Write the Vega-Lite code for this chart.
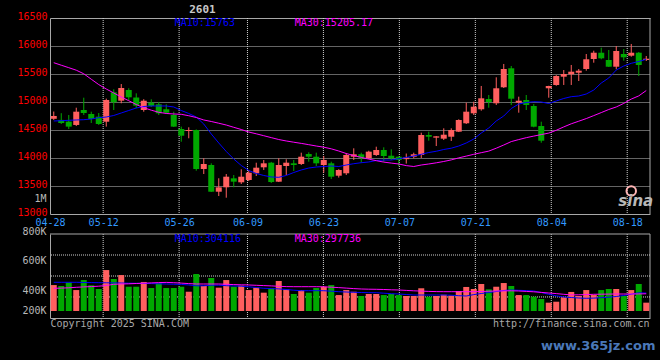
{
"$schema": "https://vega.github.io/schema/vega-lite/v6.json",
"width": 600, "height": 300,
"autosize": {"type": "none"},
"padding": {"left": 50, "top": 18, "right": 10, "bottom": 42},
"background": "#000000",
"config": {
 "view": {"stroke": null},
 "font": "DejaVu Sans Mono",
 "axis": {"labelFont": "DejaVu Sans Mono", "labelFontSize": 10, "titleFont": "DejaVu Sans Mono", "titleFontWeight": "normal", "ticks": false, "domainColor": "#a8a8a8", "domainWidth": 1, "gridColor": "#c8c8c8", "gridDash": [1, 1], "gridWidth": 1, "labelFlush": false, "labelOverlap": false}
},
"data": {"values": [
{"d":"04-28","o":14700,"h":14830,"l":14680,"c":14750,"v":371000,"m10":14661,"m30":15702,"v10":394200,"v30":343700},
{"d":"04-29","o":14680,"h":14800,"l":14607,"c":14625,"v":363000,"m10":14666,"m30":15657,"v10":394200,"v30":345400},
{"d":"04-30","o":14650,"h":14768,"l":14518,"c":14560,"v":394000,"m10":14673,"m30":15613,"v10":394200,"v30":347900},
{"d":"05-06","o":14590,"h":14898,"l":14571,"c":14827,"v":329000,"m10":14679,"m30":15568,"v10":394200,"v30":352100},
{"d":"05-07","o":14857,"h":15077,"l":14768,"c":14804,"v":413000,"m10":14684,"m30":15504,"v10":392500,"v30":355500},
{"d":"05-08","o":14786,"h":14827,"l":14625,"c":14696,"v":369000,"m10":14696,"m30":15407,"v10":391600,"v30":358000},
{"d":"05-09","o":14738,"h":14804,"l":14590,"c":14607,"v":338000,"m10":14720,"m30":15311,"v10":390800,"v30":361400},
{"d":"05-12","o":14648,"h":15060,"l":14560,"c":15036,"v":497000,"m10":14732,"m30":15232,"v10":390000,"v30":367300},
{"d":"05-13","o":15173,"h":15227,"l":14857,"c":14995,"v":422000,"m10":14759,"m30":15161,"v10":389100,"v30":377300},
{"d":"05-14","o":15023,"h":15321,"l":14977,"c":15250,"v":455000,"m10":14804,"m30":15089,"v10":388300,"v30":379900},
{"d":"05-15","o":15214,"h":15245,"l":15036,"c":15084,"v":357000,"m10":14848,"m30":15023,"v10":386600,"v30":381500},
{"d":"05-16","o":15080,"h":15155,"l":14890,"c":14935,"v":357000,"m10":14893,"m30":14955,"v10":385800,"v30":384100},
{"d":"05-19","o":14857,"h":15050,"l":14827,"c":15023,"v":397000,"m10":14920,"m30":14898,"v10":384900,"v30":386600},
{"d":"05-20","o":14988,"h":15048,"l":14911,"c":14929,"v":346000,"m10":14929,"m30":14854,"v10":383200,"v30":389100},
{"d":"05-21","o":14959,"h":15000,"l":14768,"c":14798,"v":386000,"m10":14929,"m30":14816,"v10":381500,"v30":391600},
{"d":"05-22","o":14870,"h":14959,"l":14786,"c":14809,"v":346000,"m10":14929,"m30":14795,"v10":379900,"v30":393300},
{"d":"05-23","o":14768,"h":14827,"l":14554,"c":14560,"v":346000,"m10":14911,"m30":14786,"v10":378200,"v30":390800},
{"d":"05-26","o":14518,"h":14560,"l":14291,"c":14398,"v":357000,"m10":14848,"m30":14780,"v10":376500,"v30":387400},
{"d":"05-27","o":14482,"h":14548,"l":14352,"c":14500,"v":315000,"m10":14795,"m30":14755,"v10":371500,"v30":383200},
{"d":"05-28","o":14500,"h":14510,"l":13773,"c":13804,"v":464000,"m10":14732,"m30":14723,"v10":364700,"v30":379900},
{"d":"05-29","o":13804,"h":13995,"l":13714,"c":13893,"v":363000,"m10":14607,"m30":14679,"v10":364700,"v30":379900},
{"d":"05-30","o":13875,"h":13905,"l":13393,"c":13398,"v":430000,"m10":14429,"m30":14652,"v10":369800,"v30":379900},
{"d":"06-03","o":13398,"h":13638,"l":13321,"c":13476,"v":349000,"m10":14268,"m30":14621,"v10":369800,"v30":379900},
{"d":"06-04","o":13477,"h":13714,"l":13291,"c":13666,"v":413000,"m10":14116,"m30":14589,"v10":365600,"v30":377300},
{"d":"06-05","o":13637,"h":13696,"l":13477,"c":13577,"v":357000,"m10":13982,"m30":14548,"v10":363100,"v30":374800},
{"d":"06-06","o":13566,"h":13798,"l":13536,"c":13666,"v":366000,"m10":13866,"m30":14509,"v10":361400,"v30":373100},
{"d":"06-09","o":13607,"h":13786,"l":13589,"c":13737,"v":329000,"m10":13777,"m30":14464,"v10":356300,"v30":371500},
{"d":"06-10","o":13727,"h":13916,"l":13679,"c":13827,"v":349000,"m10":13723,"m30":14432,"v10":350500,"v30":368900},
{"d":"06-11","o":13834,"h":13964,"l":13786,"c":13905,"v":307000,"m10":13688,"m30":14398,"v10":343700,"v30":366400},
{"d":"06-12","o":13916,"h":13930,"l":13554,"c":13571,"v":344000,"m10":13661,"m30":14364,"v10":341200,"v30":363900},
{"d":"06-13","o":13577,"h":13995,"l":13571,"c":13875,"v":405000,"m10":13655,"m30":14330,"v10":338700,"v30":360500},
{"d":"06-16","o":13857,"h":13977,"l":13696,"c":13916,"v":335000,"m10":13688,"m30":14304,"v10":333700,"v30":358000},
{"d":"06-17","o":13905,"h":13964,"l":13768,"c":13875,"v":296000,"m10":13741,"m30":14282,"v10":327800,"v30":357200},
{"d":"06-18","o":13893,"h":14095,"l":13875,"c":14023,"v":329000,"m10":13786,"m30":14261,"v10":323600,"v30":357200},
{"d":"06-19","o":14071,"h":14102,"l":13934,"c":14023,"v":307000,"m10":13821,"m30":14238,"v10":323600,"v30":357200},
{"d":"06-20","o":14023,"h":14095,"l":13857,"c":13905,"v":346000,"m10":13839,"m30":14214,"v10":323600,"v30":357200},
{"d":"06-23","o":13875,"h":14036,"l":13737,"c":13964,"v":357000,"m10":13848,"m30":14193,"v10":323600,"v30":356300},
{"d":"06-24","o":13905,"h":13934,"l":13625,"c":13666,"v":371000,"m10":13857,"m30":14164,"v10":319400,"v30":353000},
{"d":"06-25","o":13684,"h":13800,"l":13650,"c":13786,"v":287000,"m10":13848,"m30":14125,"v10":315200,"v30":349600},
{"d":"06-26","o":13727,"h":14089,"l":13696,"c":14054,"v":329000,"m10":13875,"m30":14080,"v10":312600,"v30":345400},
{"d":"06-27","o":14023,"h":14173,"l":13964,"c":14066,"v":315000,"m10":13898,"m30":14043,"v10":310100,"v30":341200},
{"d":"06-30","o":14066,"h":14095,"l":13916,"c":14005,"v":279000,"m10":13916,"m30":14011,"v10":308400,"v30":337900},
{"d":"07-01","o":13995,"h":14130,"l":13980,"c":14113,"v":296000,"m10":13929,"m30":13980,"v10":306800,"v30":336200},
{"d":"07-02","o":14054,"h":14202,"l":14036,"c":14143,"v":296000,"m10":13955,"m30":13952,"v10":306800,"v30":335300},
{"d":"07-03","o":14143,"h":14191,"l":13934,"c":14036,"v":287000,"m10":13964,"m30":13927,"v10":302600,"v30":333700},
{"d":"07-04","o":14041,"h":14155,"l":13964,"c":13995,"v":296000,"m10":13964,"m30":13909,"v10":298400,"v30":331100},
{"d":"07-07","o":14023,"h":14030,"l":13857,"c":13964,"v":287000,"m10":13988,"m30":13893,"v10":295800,"v30":329500},
{"d":"07-08","o":13980,"h":14080,"l":13900,"c":14010,"v":279000,"m10":14009,"m30":13864,"v10":291600,"v30":326100},
{"d":"07-09","o":14023,"h":14095,"l":13995,"c":14066,"v":279000,"m10":14036,"m30":13848,"v10":287400,"v30":322700},
{"d":"07-10","o":14054,"h":14452,"l":14000,"c":14411,"v":344000,"m10":14066,"m30":13875,"v10":287400,"v30":320200},
{"d":"07-11","o":14411,"h":14470,"l":14309,"c":14380,"v":273000,"m10":14098,"m30":13893,"v10":287400,"v30":317700},
{"d":"07-14","o":14363,"h":14393,"l":14214,"c":14387,"v":279000,"m10":14120,"m30":13914,"v10":287400,"v30":316000},
{"d":"07-15","o":14345,"h":14530,"l":14321,"c":14416,"v":290000,"m10":14152,"m30":13938,"v10":287400,"v30":315200},
{"d":"07-16","o":14380,"h":14530,"l":14304,"c":14500,"v":283000,"m10":14175,"m30":13966,"v10":285800,"v30":315200},
{"d":"07-17","o":14470,"h":14691,"l":14464,"c":14679,"v":321000,"m10":14214,"m30":14002,"v10":281600,"v30":315200},
{"d":"07-18","o":14620,"h":14988,"l":14607,"c":14827,"v":355000,"m10":14268,"m30":14034,"v10":279000,"v30":315200},
{"d":"07-21","o":14798,"h":15005,"l":14768,"c":14916,"v":338000,"m10":14339,"m30":14066,"v10":290800,"v30":315200},
{"d":"07-22","o":14870,"h":15286,"l":14845,"c":15066,"v":380000,"m10":14446,"m30":14095,"v10":300000,"v30":316800},
{"d":"07-23","o":15054,"h":15125,"l":14898,"c":15000,"v":335000,"m10":14536,"m30":14123,"v10":308400,"v30":319400},
{"d":"07-24","o":14977,"h":15441,"l":14946,"c":15245,"v":357000,"m10":14661,"m30":14175,"v10":316800,"v30":321100},
{"d":"07-25","o":15263,"h":15679,"l":15250,"c":15589,"v":388000,"m10":14750,"m30":14232,"v10":325300,"v30":321900},
{"d":"07-28","o":15602,"h":15643,"l":14946,"c":15059,"v":363000,"m10":14884,"m30":14293,"v10":329500,"v30":322700},
{"d":"07-29","o":14988,"h":15095,"l":14809,"c":15023,"v":287000,"m10":14964,"m30":14329,"v10":326900,"v30":321100},
{"d":"07-30","o":15036,"h":15125,"l":14857,"c":14946,"v":287000,"m10":14991,"m30":14363,"v10":324400,"v30":317700},
{"d":"07-31","o":14929,"h":14964,"l":14548,"c":14559,"v":273000,"m10":15005,"m30":14391,"v10":321100,"v30":314300},
{"d":"08-01","o":14571,"h":14648,"l":14273,"c":14309,"v":254000,"m10":15000,"m30":14418,"v10":308400,"v30":309300},
{"d":"08-04","o":15245,"h":15290,"l":15077,"c":15286,"v":223000,"m10":14973,"m30":14445,"v10":293300,"v30":304200},
{"d":"08-05","o":15304,"h":15480,"l":15290,"c":15464,"v":231000,"m10":15018,"m30":14495,"v10":280700,"v30":299200},
{"d":"08-06","o":15452,"h":15571,"l":15304,"c":15500,"v":268000,"m10":15063,"m30":14555,"v10":270600,"v30":293300},
{"d":"08-07","o":15495,"h":15661,"l":15304,"c":15541,"v":313000,"m10":15095,"m30":14611,"v10":266400,"v30":288300},
{"d":"08-08","o":15523,"h":15589,"l":15375,"c":15559,"v":279000,"m10":15107,"m30":14657,"v10":262200,"v30":289100},
{"d":"08-11","o":15589,"h":15857,"l":15559,"c":15763,"v":329000,"m10":15143,"m30":14704,"v10":259700,"v30":290800},
{"d":"08-12","o":15768,"h":15916,"l":15702,"c":15880,"v":287000,"m10":15214,"m30":14757,"v10":261400,"v30":293300},
{"d":"08-13","o":15880,"h":15970,"l":15763,"c":15780,"v":329000,"m10":15339,"m30":14811,"v10":264800,"v30":294200},
{"d":"08-14","o":15750,"h":15929,"l":15625,"c":15630,"v":338000,"m10":15429,"m30":14866,"v10":269000,"v30":295000},
{"d":"08-15","o":15630,"h":16000,"l":15584,"c":15911,"v":338000,"m10":15571,"m30":14911,"v10":274800,"v30":295800},
{"d":"08-18","o":15857,"h":15946,"l":15738,"c":15798,"v":279000,"m10":15643,"m30":14975,"v10":283200,"v30":295800},
{"d":"08-19","o":15827,"h":16036,"l":15809,"c":15880,"v":329000,"m10":15691,"m30":15052,"v10":294200,"v30":295800},
{"d":"08-20","o":15880,"h":15893,"l":15464,"c":15661,"v":380000,"m10":15723,"m30":15109,"v10":305900,"v30":296500},
{"d":"08-21","o":15750,"h":15821,"l":15732,"c":15773,"v":223000,"m10":15763,"m30":15205,"v10":304116,"v30":297736}
]},
"resolve": {"scale": {"x": "independent", "y": "independent"}, "axis": {"x": "independent", "y": "independent"}},
"layer": [
 {
  "resolve": {"scale": {"x": "independent"}, "axis": {"x": "independent"}},
  "layer": [
   {
    "layer": [
     {
      "mark": {"type": "rule", "color": "#d0d0d0", "strokeDash": [1, 1], "strokeWidth": 1},
      "encoding": {
       "x": {"field": "d", "type": "ordinal", "scale": {"type": "point", "padding": 0},
             "axis": {"orient": "bottom", "offset": -104, "values": ["04-28","05-12","05-26","06-09","06-23","07-07","07-21","08-04","08-18"], "labelColor": "#3399ff", "labelPadding": 3, "labelAngle": 0, "labelOverlap": false, "grid": false, "domain": true, "title": null}},
       "y": {"datum": 16500, "type": "quantitative", "scale": {"domain": [13000, 16500], "range": [196, 0], "zero": false, "nice": false},
             "axis": {"orient": "left", "values": [13000, 13500, 14000, 14500, 15000, 15500, 16000, 16500], "format": "d", "labelColor": "#ff0000", "labelPadding": 3, "labelOffset": -2, "labelOverlap": false, "labelBound": false, "grid": true, "gridOpacity": {"condition": {"test": "datum.value == 13000 || datum.value == 16500", "value": 0}, "value": 1}, "domain": true, "title": "1M", "titleX": -4, "titleY": 180, "titleAngle": 0, "titleAlign": "right", "titleBaseline": "middle", "titleColor": "#b8b8b8", "titleFontSize": 10}},
       "y2": {"datum": 13000},
       "opacity": {"condition": {"test": {"field": "d", "oneOf": ["05-12","05-26","06-09","06-23","07-07","07-21","08-04","08-18"]}, "value": 1}, "value": 0}
      }
     },
     {
      "data": {"values": [{}]},
      "mark": {"type": "rule", "color": "#a8a8a8", "strokeWidth": 1},
      "encoding": {
       "x": {"datum": "08-21", "type": "ordinal", "scale": {"type": "point", "padding": 0}},
       "y": {"datum": 16500, "type": "quantitative", "scale": {"domain": [13000, 16500], "range": [196, 0], "zero": false, "nice": false}},
       "y2": {"datum": 13000}
      }
     }
    ]
   },
   {
    "layer": [
     {
      "mark": {"type": "rule", "strokeWidth": 1},
      "encoding": {
       "x": {"field": "d", "type": "ordinal", "scale": {"type": "band", "paddingInner": 0.2, "paddingOuter": 0.1},
             "axis": {"orient": "top", "labels": false, "ticks": false, "grid": false, "domain": true, "title": "2601", "titleX": 152, "titleY": -9, "titleAlign": "center", "titleBaseline": "middle", "titleColor": "#c8c8c8", "titleFontSize": 11, "titleFontWeight": "bold"}},
       "y": {"field": "l", "type": "quantitative", "scale": {"domain": [13000, 16500], "range": [196, 0], "zero": false, "nice": false}},
       "y2": {"field": "h"},
       "color": {"condition": {"test": "datum.c >= datum.o", "value": "#ff5f5f"}, "value": "#00a800"}
      }
     },
     {
      "mark": {"type": "bar"},
      "encoding": {
       "x": {"field": "d", "type": "ordinal", "scale": {"type": "band", "paddingInner": 0.2, "paddingOuter": 0.1}},
       "y": {"field": "o", "type": "quantitative", "scale": {"domain": [13000, 16500], "range": [196, 0], "zero": false, "nice": false}},
       "y2": {"field": "c"},
       "color": {"condition": {"test": "datum.c >= datum.o", "value": "#ff5f5f"}, "value": "#00a800"}
      }
     },
     {
      "mark": {"type": "line", "color": "#0000ff", "strokeWidth": 1},
      "encoding": {
       "x": {"field": "d", "type": "ordinal", "scale": {"type": "band", "paddingInner": 0.2, "paddingOuter": 0.1}},
       "y": {"field": "m10", "type": "quantitative", "scale": {"domain": [13000, 16500], "range": [196, 0], "zero": false, "nice": false}}
      }
     },
     {
      "mark": {"type": "line", "color": "#ff00ff", "strokeWidth": 1},
      "encoding": {
       "x": {"field": "d", "type": "ordinal", "scale": {"type": "band", "paddingInner": 0.2, "paddingOuter": 0.1}},
       "y": {"field": "m30", "type": "quantitative", "scale": {"domain": [13000, 16500], "range": [196, 0], "zero": false, "nice": false}}
      }
     },
     {
      "data": {"values": [{}]},
      "mark": {"type": "text", "text": "MA10:15763", "align": "left", "baseline": "middle", "color": "#0000ff", "font": "DejaVu Sans Mono", "fontSize": 10, "dx": 1},
      "encoding": {
       "x": {"datum": "05-23", "type": "ordinal", "scale": {"type": "band", "paddingInner": 0.2, "paddingOuter": 0.1}},
       "y": {"datum": 16405, "type": "quantitative", "scale": {"domain": [13000, 16500], "range": [196, 0], "zero": false, "nice": false}}
      }
     },
     {
      "data": {"values": [{}]},
      "mark": {"type": "text", "text": "MA30:15205.17", "align": "left", "baseline": "middle", "color": "#ff00ff", "font": "DejaVu Sans Mono", "fontSize": 10, "dx": 1},
      "encoding": {
       "x": {"datum": "06-17", "type": "ordinal", "scale": {"type": "band", "paddingInner": 0.2, "paddingOuter": 0.1}},
       "y": {"datum": 16405, "type": "quantitative", "scale": {"domain": [13000, 16500], "range": [196, 0], "zero": false, "nice": false}}
      }
     },
     {
      "data": {"values": [{}]},
      "mark": {"type": "point", "shape": "circle", "filled": false, "color": "#ffb4b4", "strokeWidth": 2, "size": 90, "opacity": 1},
      "encoding": {
       "x": {"datum": "08-19", "type": "ordinal", "scale": {"type": "band", "paddingInner": 0.2, "paddingOuter": 0.1}},
       "y": {"datum": 13411, "type": "quantitative", "scale": {"domain": [13000, 16500], "range": [196, 0], "zero": false, "nice": false}}
      }
     },
     {
      "data": {"values": [{}]},
      "mark": {"type": "text", "text": "sina", "align": "center", "baseline": "middle", "color": "#b8b8b8", "font": "DejaVu Sans", "fontSize": 15, "fontWeight": "bold", "fontStyle": "italic", "dx": -3},
      "encoding": {
       "x": {"datum": "08-20", "type": "ordinal", "scale": {"type": "band", "paddingInner": 0.2, "paddingOuter": 0.1}},
       "y": {"datum": 13232, "type": "quantitative", "scale": {"domain": [13000, 16500], "range": [196, 0], "zero": false, "nice": false}}
      }
     }
    ]
   }
  ]
 },
 {
  "resolve": {"scale": {"x": "independent"}, "axis": {"x": "independent"}},
  "layer": [
   {
    "layer": [
     {
      "mark": {"type": "rule", "color": "#d0d0d0", "strokeDash": [1, 1], "strokeWidth": 1},
      "encoding": {
       "x": {"field": "d", "type": "ordinal", "scale": {"type": "point", "padding": 0},
             "axis": {"orient": "bottom", "labels": false, "ticks": false, "grid": false, "domain": true, "title": "Copyright 2025 SINA.COM", "titleX": 0, "titleY": 5, "titleAlign": "left", "titleBaseline": "middle", "titleColor": "#a8a8a8", "titleFontSize": 10}},
       "y": {"datum": 800000, "type": "quantitative", "scale": {"domain": [94200, 800000], "range": [300, 216], "zero": false, "nice": false},
             "axis": {"orient": "left", "values": [800000, 600000, 400000, 200000], "labelExpr": "format(datum.value / 1000, 'd') + 'K'", "labelColor": "#b8b8b8", "labelPadding": 4, "labelOverlap": false, "labelBound": false, "labelOffset": {"condition": [{"test": "datum.value == 800000", "value": -3}, {"test": "datum.value == 600000", "value": 3}, {"test": "datum.value == 400000", "value": 9}], "value": 5}, "grid": false, "domain": true, "title": "www.365jz.com", "titleX": 605, "titleY": 327, "titleAngle": 0, "titleAlign": "right", "titleBaseline": "middle", "titleColor": "#4a78b8", "titleFont": "DejaVu Sans", "titleFontSize": 13, "titleFontWeight": "bold"}},
       "y2": {"datum": 94200},
       "opacity": {"condition": {"test": {"field": "d", "oneOf": ["05-12","05-26","06-09","06-23","07-07","07-21","08-04","08-18"]}, "value": 1}, "value": 0}
      }
     },
     {
      "data": {"values": [{}]},
      "mark": {"type": "rule", "color": "#a8a8a8", "strokeWidth": 1},
      "encoding": {
       "x": {"datum": "08-21", "type": "ordinal", "scale": {"type": "point", "padding": 0}},
       "y": {"datum": 800000, "type": "quantitative", "scale": {"domain": [94200, 800000], "range": [300, 216], "zero": false, "nice": false}},
       "y2": {"datum": 94200}
      }
     },
     {
      "data": {"values": [{}]},
      "mark": {"type": "rule", "color": "#a8a8a8", "strokeWidth": 1},
      "encoding": {
       "y": {"datum": 800000, "type": "quantitative", "scale": {"domain": [94200, 800000], "range": [300, 216], "zero": false, "nice": false}}
      }
     },
     {
      "data": {"values": [{}]},
      "mark": {"type": "rule", "color": "#d0d0d0", "strokeDash": [1, 1], "strokeWidth": 1},
      "encoding": {
       "y": {"datum": 623500, "type": "quantitative", "scale": {"domain": [94200, 800000], "range": [300, 216], "zero": false, "nice": false}}
      }
     },
     {
      "data": {"values": [{}]},
      "mark": {"type": "rule", "color": "#d0d0d0", "strokeDash": [1, 1], "strokeWidth": 1},
      "encoding": {
       "y": {"datum": 447000, "type": "quantitative", "scale": {"domain": [94200, 800000], "range": [300, 216], "zero": false, "nice": false}}
      }
     },
     {
      "data": {"values": [{}]},
      "mark": {"type": "rule", "color": "#d0d0d0", "strokeDash": [1, 1], "strokeWidth": 1},
      "encoding": {
       "y": {"datum": 271000, "type": "quantitative", "scale": {"domain": [94200, 800000], "range": [300, 216], "zero": false, "nice": false}}
      }
     }
    ]
   },
   {
    "layer": [
     {
      "mark": {"type": "bar"},
      "encoding": {
       "x": {"field": "d", "type": "ordinal", "scale": {"type": "band", "paddingInner": 0.2, "paddingOuter": 0.1},
             "axis": {"orient": "bottom", "labels": false, "ticks": false, "grid": false, "domain": false, "title": "http://finance.sina.com.cn", "titleX": 599, "titleY": 5, "titleAlign": "right", "titleBaseline": "middle", "titleColor": "#a8a8a8", "titleFontSize": 10}},
       "y": {"field": "v", "type": "quantitative", "scale": {"domain": [94200, 800000], "range": [300, 216], "zero": false, "nice": false}},
       "y2": {"datum": 153000},
       "color": {"condition": {"test": "datum.c >= datum.o", "value": "#ff5f5f"}, "value": "#00a800"}
      }
     },
     {
      "mark": {"type": "line", "color": "#0000ff", "strokeWidth": 1},
      "encoding": {
       "x": {"field": "d", "type": "ordinal", "scale": {"type": "band", "paddingInner": 0.2, "paddingOuter": 0.1}},
       "y": {"field": "v10", "type": "quantitative", "scale": {"domain": [94200, 800000], "range": [300, 216], "zero": false, "nice": false}}
      }
     },
     {
      "mark": {"type": "line", "color": "#ff00ff", "strokeWidth": 1},
      "encoding": {
       "x": {"field": "d", "type": "ordinal", "scale": {"type": "band", "paddingInner": 0.2, "paddingOuter": 0.1}},
       "y": {"field": "v30", "type": "quantitative", "scale": {"domain": [94200, 800000], "range": [300, 216], "zero": false, "nice": false}}
      }
     },
     {
      "data": {"values": [{}]},
      "mark": {"type": "text", "text": "MA10:304116", "align": "left", "baseline": "middle", "color": "#0000ff", "font": "DejaVu Sans Mono", "fontSize": 10, "dx": 1},
      "encoding": {
       "x": {"datum": "05-23", "type": "ordinal", "scale": {"type": "band", "paddingInner": 0.2, "paddingOuter": 0.1}},
       "y": {"datum": 760500, "type": "quantitative", "scale": {"domain": [94200, 800000], "range": [300, 216], "zero": false, "nice": false}}
      }
     },
     {
      "data": {"values": [{}]},
      "mark": {"type": "text", "text": "MA30:297736", "align": "left", "baseline": "middle", "color": "#ff00ff", "font": "DejaVu Sans Mono", "fontSize": 10, "dx": 1},
      "encoding": {
       "x": {"datum": "06-17", "type": "ordinal", "scale": {"type": "band", "paddingInner": 0.2, "paddingOuter": 0.1}},
       "y": {"datum": 760500, "type": "quantitative", "scale": {"domain": [94200, 800000], "range": [300, 216], "zero": false, "nice": false}}
      }
     }
    ]
   }
  ]
 }
]
}
